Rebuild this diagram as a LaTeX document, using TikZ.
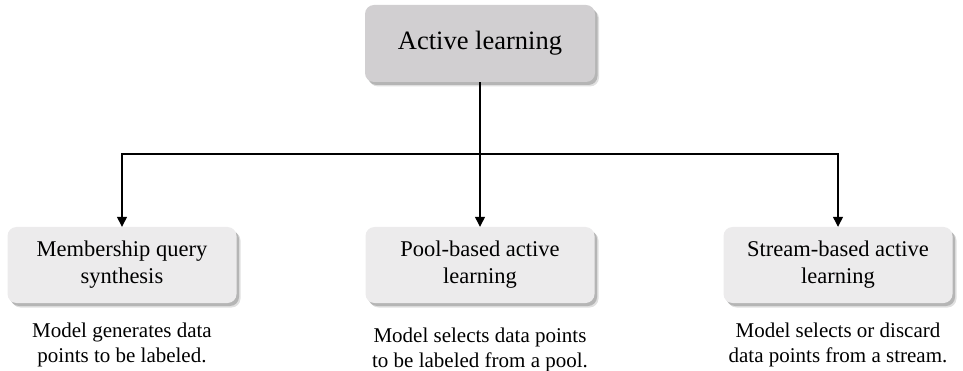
\documentclass[tikz,border=0pt]{standalone}
\usepackage{fontspec}
\setmainfont{Liberation Serif}
\usetikzlibrary{arrows.meta,shadows}
\definecolor{topfill}{HTML}{D1CFD1}
\definecolor{subfill}{HTML}{ECEBEC}
\tikzset{
  boxshadow/.style={
    drop shadow={shadow xshift=4pt,shadow yshift=-4.5pt,opacity=0.12,fill=black},
    drop shadow={shadow xshift=2.5pt,shadow yshift=-3pt,opacity=0.25,fill=black!80}},
  topbox/.style={rounded corners=9pt,fill=topfill,minimum width=230pt,minimum height=77pt,
    align=center,font=\fontsize{26.5}{30}\selectfont,boxshadow},
  subbox/.style={rounded corners=9pt,fill=subfill,minimum width=229pt,minimum height=76pt,
    align=center,font=\fontsize{22.5}{27}\selectfont,boxshadow},
  desc/.style={align=center,font=\fontsize{21}{24.5}\selectfont,inner sep=0pt},
  link/.style={line width=1.3pt,draw=black},
  arr/.style={link,-{Triangle[width=10pt,length=10pt]}}
}
\begin{document}
\begin{tikzpicture}[x=1pt,y=-1pt]
\useasboundingbox (0,0) rectangle (963,371);
\node[topbox] (top) at (480,43.5) {Active learning};
\node[subbox] (mq) at (122,265) {Membership query\\synthesis};
\node[subbox] (pool) at (480,265) {Pool-based active\\learning};
\node[subbox] (stream) at (838,265) {Stream-based active\\learning};
\node[desc] (mqd) at (122,345) {Model generates data\\points to be labeled.};
\node[desc] (poold) at (480,350) {Model selects data points\\to be labeled from a pool.};
\node[desc] (streamd) at (838,345) {Model selects or discard\\data points from a stream.};
\coordinate (split) at (480,154);
\draw[link] (top.south) -- (split);
\draw[arr] (split) -| (mq.north);
\draw[arr] (split) -- (pool.north);
\draw[arr] (split) -| (stream.north);
\end{tikzpicture}
\end{document}
